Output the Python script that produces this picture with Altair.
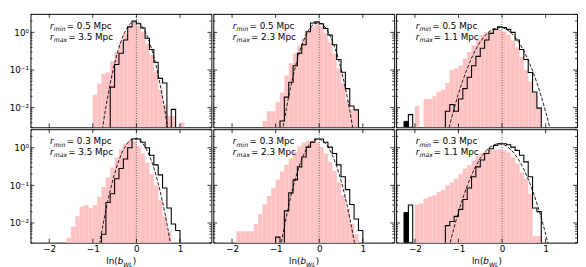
import altair as alt
import pandas as pd

W, H = 185, 116
X_DOMAIN = [-2.43, 1.72]
Y_DOMAIN = [0.003, 3.1]
BIN_W = 0.1
TINY = 1e-6

X_TICKS = [-2, -1, 0, 1]
Y_MAJOR = [0.01, 0.1, 1.0]
Y_MINOR = [0.003, 0.004, 0.005, 0.006, 0.007, 0.008, 0.009,
           0.02, 0.03, 0.04, 0.05, 0.06, 0.07, 0.08, 0.09,
           0.2, 0.3, 0.4, 0.5, 0.6, 0.7, 0.8, 0.9, 2.0, 3.0]

R_MIN = ["0.5", "0.5", "0.5", "0.3", "0.3", "0.3"]
R_MAX = ["3.5", "2.3", "1.1", "3.5", "2.3", "1.1"]

# pink histograms (left edge of first bin, bin heights)
PINK_START = [-1.0, -1.3, -2.0, -1.6, -1.9, -2.0]
PINK_1 = [0.022, 0.043, 0.078, 0.086, 0.17, 0.3, 0.55, 0.95, 1.5, 1.8, 1.5, 1.0, 0.5,
          0.25, 0.09, 0.03, 0.012, 0.006, 0.006, 0, 0.004]
PINK_2 = [0.0044, 0.008, 0.008, 0.014, 0.025, 0.07, 0.15, 0.28, 0.45, 0.7, 1.05, 1.4,
          1.65, 1.45, 0.95, 0.55, 0.27, 0.11, 0.045, 0.015, 0.009, 0.009]
PINK_3 = [0.011, 0, 0.017, 0.017, 0.02, 0.026, 0.03, 0.045, 0.1, 0.11, 0.13, 0.2, 0.3,
          0.45, 0.65, 0.85, 1.0, 1.1, 1.15, 1.15, 1.05, 0.85, 0.6, 0.4, 0.22, 0.1, 0.05,
          0.025, 0.0096]
PINK_4 = [0.004, 0.008, 0.015, 0.027, 0.03, 0.025, 0.03, 0.05, 0.09, 0.16, 0.3, 0.55,
          0.9, 1.3, 1.55, 1.5, 1.1, 0.7, 0.4, 0.2, 0.1, 0.04, 0.015, 0.006]
PINK_5 = [0.006, 0.006, 0.006, 0.006, 0.0094, 0.017, 0.031, 0.052, 0.085, 0.14, 0.23,
          0.35, 0.52, 0.77, 1.1, 1.35, 1.5, 1.55, 1.4, 1.05, 0.7, 0.42, 0.24, 0.12,
          0.055, 0.024, 0.0094, 0.005]
PINK_6 = [0.031, 0.033, 0.045, 0.05, 0.055, 0.067, 0.075, 0.1, 0.12, 0.15, 0.2, 0.28,
          0.35, 0.45, 0.6, 0.72, 0.82, 0.88, 0.9, 0.9, 0.85, 0.75, 0.55, 0.38, 0.22,
          0.15, 0.06, 0.0045, 0.0045]
PINK = [PINK_1, PINK_2, PINK_3, PINK_4, PINK_5, PINK_6]

# black step histograms
BLACK_START = [-0.6, -0.9, -1.3, -0.8, -1.0, -1.3]
BLACK_1 = [0.035, 0.14, 0.28, 0.63, 1.4, 2.0, 1.7, 1.3, 0.7, 0.35, 0.16, 0.06, 0.045, 0,
           0.009]
BLACK_2 = [0.0044, 0.019, 0.047, 0.13, 0.28, 0.47, 1.04, 1.78, 1.9, 1.7, 1.27, 0.85,
           0.47, 0.19, 0.087, 0.032, 0.011, 0.0087]
BLACK_3 = [0.008, 0.012, 0.008, 0.017, 0.032, 0.064, 0.13, 0.23, 0.38, 0.63, 0.94, 1.2,
           1.4, 1.35, 1.2, 1.0, 0.63, 0.35, 0.19, 0.086, 0.026, 0.0097]
BLACK_4 = [0.005, 0.035, 0.06, 0.15, 0.28, 0.5, 1.0, 1.7, 1.7, 1.4, 1.0, 0.63, 0.35,
           0.19, 0.085, 0.025, 0.0094, 0.0063]
BLACK_5 = [0.0042, 0, 0.021, 0.063, 0.14, 0.31, 0.57, 1.04, 1.4, 1.7, 1.7, 1.4, 1.04,
           0.7, 0.35, 0.17, 0.077, 0.031, 0.0127, 0.0063]
BLACK_6 = [0.0085, 0.011, 0.015, 0.023, 0.042, 0.085, 0.17, 0.31, 0.47, 0.7, 0.94, 1.15,
           1.27, 1.27, 1.2, 1.04, 0.85, 0.63, 0.42, 0.17, 0.025, 0.02]
BLACK = [BLACK_1, BLACK_2, BLACK_3, BLACK_4, BLACK_5, BLACK_6]

# outlier bins at the far left (right-hand column only)
OUT_EDGES = [-2.25, -2.15, -2.05]
OUT_FILLED = [None, None, 0.0043, None, None, 0.019]
OUT_OPEN = [None, None, 0.0065, None, None, 0.03]

# dashed fitted curves, read at 0.1 steps
FIT_START = [-0.8, -0.9, -1.3, -0.9, -1.0, -1.3]
FIT_1 = [0.0019, 0.0103, 0.044, 0.148, 0.394, 0.83, 1.39, 1.84, 1.93, 1.60, 1.05,
         0.547, 0.225, 0.0735, 0.019, 0.0039, 0.00063]
FIT_2 = [0.0009, 0.00465, 0.0198, 0.0686, 0.195, 0.455, 0.865, 1.35, 1.71, 1.78, 1.52,
         1.06, 0.603, 0.281, 0.107, 0.0333, 0.0085, 0.00178]
FIT_3 = [0.00116, 0.00346, 0.0094, 0.0234, 0.0529, 0.109, 0.206, 0.354, 0.555, 0.794,
         1.036, 1.234, 1.34, 1.328, 1.2, 0.99, 0.745, 0.511, 0.32, 0.183, 0.0951,
         0.0452, 0.0196, 0.00776, 0.0028, 0.00092]
FIT_4 = [0.00107, 0.00536, 0.022, 0.0737, 0.204, 0.463, 0.868, 1.334, 1.687, 1.755,
         1.50, 1.05, 0.609, 0.29, 0.113, 0.0364, 0.00963, 0.0021, 0.00038]
FIT_5 = [0.00034, 0.0018, 0.00793, 0.0292, 0.0897, 0.23, 0.492, 0.879, 1.309, 1.626,
         1.686, 1.459, 1.053, 0.634, 0.319, 0.134, 0.0467, 0.0136, 0.00333, 0.00068]
FIT_6 = [0.00087, 0.0027, 0.00763, 0.0196, 0.0458, 0.0973, 0.187, 0.328, 0.521, 0.751,
         0.984, 1.17, 1.265, 1.24, 1.105, 0.894, 0.656, 0.438, 0.265, 0.146, 0.0728,
         0.033, 0.0136, 0.0051, 0.00173, 0.00053]
FIT = [FIT_1, FIT_2, FIT_3, FIT_4, FIT_5, FIT_6]

PINK_COLOR = "#ffc2c2"
FONT = "DejaVu Sans"

xs = alt.Scale(domain=X_DOMAIN, nice=False, zero=False)
ys = alt.Scale(type="log", domain=Y_DOMAIN, nice=False)


def grid(start, n):
    return [round(start + k * BIN_W, 3) for k in range(n)]


def panel(i):
    row, col = divmod(i, 3)
    if row == 1:
        xaxis = alt.Axis(values=X_TICKS, title=None, ticks=False, domain=False,
                         grid=False, labelPadding=2, labelFontSize=9)
    else:
        xaxis = None
    if col == 0:
        yaxis = alt.Axis(values=Y_MAJOR, title=None, ticks=False, domain=False,
                         grid=False, labelPadding=2, labelFontSize=9,
                         labelExpr="datum.value > 0.5 ? '10⁰' : (datum.value > 0.05 ? '10⁻¹' : '10⁻²')")
    else:
        yaxis = None

    def X(f):
        return alt.X(f, type="quantitative", scale=xs, axis=xaxis)

    def Y(f):
        return alt.Y(f, type="quantitative", scale=ys, axis=yaxis)

    layers = []

    # pink histogram
    pv = PINK[i]
    px0 = grid(PINK_START[i], len(pv))
    pdf = pd.DataFrame({"x0": px0, "x1": [round(a + BIN_W, 3) for a in px0], "v": pv})
    pdf = pdf[pdf["v"] > 0]
    layers.append(
        alt.Chart(pdf).mark_bar(color=PINK_COLOR, clip=True, stroke="#ffd6d6",
                                strokeWidth=0.3)
        .encode(x=X("x0"), x2="x1", y=Y("v"), y2=alt.value(H))
    )

    # outlier bins
    if OUT_FILLED[i] is not None:
        fdf = pd.DataFrame({"x0": [OUT_EDGES[0]], "x1": [OUT_EDGES[1]], "v": [OUT_FILLED[i]]})
        layers.append(
            alt.Chart(fdf).mark_bar(color="black", stroke="black", strokeWidth=1, clip=True)
            .encode(x=X("x0"), x2="x1", y=Y("v"), y2=alt.value(H))
        )
        odf = pd.DataFrame({"x0": [OUT_EDGES[1]], "x1": [OUT_EDGES[2]], "v": [OUT_OPEN[i]]})
        layers.append(
            alt.Chart(odf).mark_bar(fillOpacity=0, stroke="black", strokeWidth=1.1, clip=True)
            .encode(x=X("x0"), x2="x1", y=Y("v"), y2=alt.value(H))
        )

    # black step histogram
    bv = BLACK[i]
    bx = grid(BLACK_START[i] - BIN_W, len(bv) + 2)
    bvals = [TINY] + [v if v > 0 else TINY for v in bv] + [TINY]
    bdf = pd.DataFrame({"x": bx, "v": bvals, "o": list(range(len(bx)))})
    layers.append(
        alt.Chart(bdf).mark_line(color="black", strokeWidth=1.1, interpolate="step-after",
                                 clip=True)
        .encode(x=X("x"), y=Y("v"), order="o:Q")
    )

    # dashed fit
    fv = FIT[i]
    fdf2 = pd.DataFrame({"x": grid(FIT_START[i], len(fv)), "v": fv})
    layers.append(
        alt.Chart(fdf2).mark_line(color="black", strokeWidth=0.9, strokeDash=[3.5, 1.8],
                                  interpolate="monotone", clip=True)
        .encode(x=X("x"), y=Y("v"))
    )

    # dotted zero line
    layers.append(
        alt.Chart(pd.DataFrame({"x": [0.0]})).mark_rule(color="#333333", strokeWidth=0.8,
                                                        strokeDash=[1, 1.6])
        .encode(x=X("x"))
    )

    # inward ticks
    xt = pd.DataFrame({"x": X_TICKS})
    ymaj = pd.DataFrame({"y": Y_MAJOR})
    ymin = pd.DataFrame({"y": Y_MINOR})
    tk = dict(color="black", strokeWidth=0.8)
    layers += [
        alt.Chart(xt).mark_rule(**tk).encode(x=X("x"), y=alt.value(H), y2=alt.value(H - 4)),
        alt.Chart(xt).mark_rule(**tk).encode(x=X("x"), y=alt.value(0), y2=alt.value(4)),
        alt.Chart(ymaj).mark_rule(**tk).encode(y=Y("y"), x=alt.value(0), x2=alt.value(4)),
        alt.Chart(ymaj).mark_rule(**tk).encode(y=Y("y"), x=alt.value(W), x2=alt.value(W - 4)),
        alt.Chart(ymin).mark_rule(**tk).encode(y=Y("y"), x=alt.value(0), x2=alt.value(2)),
        alt.Chart(ymin).mark_rule(**tk).encode(y=Y("y"), x=alt.value(W), x2=alt.value(W - 2)),
    ]

    # annotation text
    def txt(s, x, y, size=9.0, italic=False):
        return alt.Chart(pd.DataFrame({"t": [s]})).mark_text(
            align="left", baseline="alphabetic", font=FONT, fontSize=size,
            fontStyle="italic" if italic else "normal", color="black"
        ).encode(text="t:N", x=alt.value(x), y=alt.value(y))

    y1, y2 = 15.5, 26.5
    layers += [
        txt("r", 20, y1, italic=True),
        txt("min", 23.8, y1 + 2.3, size=6.3, italic=True),
        txt("= " + R_MIN[i] + " Mpc", 37, y1),
        txt("r", 20, y2, italic=True),
        txt("max", 23.8, y2 + 2.3, size=6.3, italic=True),
        txt("= " + R_MAX[i] + " Mpc", 38.5, y2),
    ]

    if row == 1:
        ty = H + 22
        x0 = W / 2 - 15
        layers += [
            txt("ln(", x0, ty, size=9),
            txt("b", x0 + 11.7, ty, size=9, italic=True),
            txt("WL", x0 + 17.4, ty + 2.4, size=6.3, italic=True),
            txt(")", x0 + 27.2, ty, size=9),
        ]

    return alt.layer(*layers).properties(width=W, height=H)


row1 = alt.hconcat(*[panel(k) for k in range(3)], spacing=0)
row2 = alt.hconcat(*[panel(k) for k in range(3, 6)], spacing=0)

chart = (
    alt.vconcat(row1, row2, spacing=0)
    .properties(padding={"left": 0, "top": 2, "right": 0, "bottom": 0})
    .configure_view(stroke="black", strokeWidth=1)
    .configure_axis(labelFont=FONT, labelColor="black")
)

chart.save("out.html", embed_options={"renderer": "svg", "actions": False})
